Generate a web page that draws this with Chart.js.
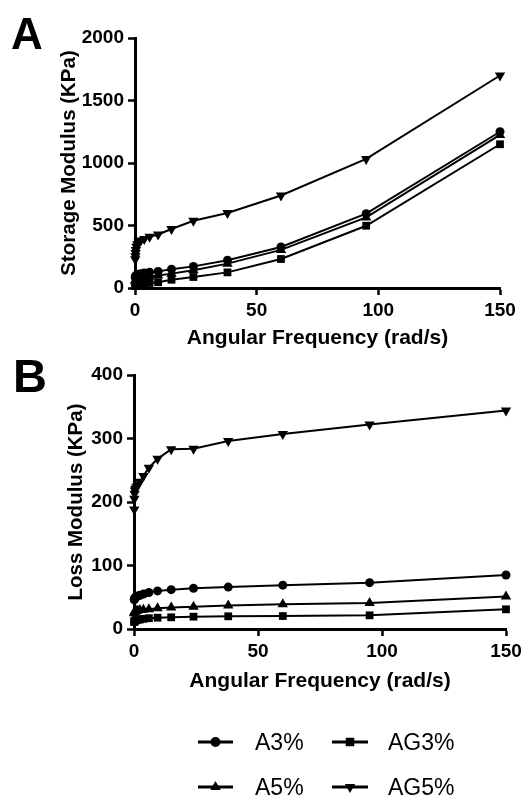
<!DOCTYPE html>
<html><head><meta charset="utf-8">
<script src="https://cdn.jsdelivr.net/npm/chart.js@4"></script>
<style>
html,body{margin:0;padding:0;background:#fff;}
#wrap{position:relative;width:532px;height:799px;overflow:hidden;background:#fff;}
canvas{position:absolute;left:0;}
.panel{position:absolute;font-family:'Liberation Sans',Arial,sans-serif;font-weight:bold;line-height:1;color:#000;}
</style></head><body>
<div id="wrap">
<canvas id="cA" width="532" height="352" style="top:0;width:532px;height:352px"></canvas>
<canvas id="cB" width="532" height="447" style="top:352px;width:532px;height:447px"></canvas>
<div class="panel" style="left:11px;top:12px;font-size:44px;">A</div>
<div class="panel" style="left:13px;top:352px;font-size:47px;font-family:'Liberation Sans Narrow','Liberation Sans',Arial,sans-serif;">B</div>
</div>
<script>
// ---- data ----
const freq = [0.1, 0.15, 0.24, 0.38, 0.6, 0.95, 1.5, 2.4, 3.8, 6, 9.5, 15, 24, 38, 60, 95, 150];
const seriesLabels = ['A3%', 'A5%', 'AG3%', 'AG5%'];

const storageA3  = [85, 90, 95, 98, 102, 106, 110, 115, 120, 126, 133, 150, 173, 222, 328, 595, 1250];
const storageA5  = [55, 60, 64, 68, 72, 76, 80, 84, 88, 93, 100, 115, 142, 195, 305, 565, 1225];
const storageAG3 = [15, 18, 20, 22, 25, 27, 30, 33, 36, 40, 46, 66, 88, 125, 232, 498, 1150];
const storageAG5 = [230, 255, 280, 305, 330, 350, 365, 380, 392, 410, 428, 472, 538, 600, 740, 1033, 1700];

const lossA3  = [46, 47, 48, 49, 50, 51, 52, 53, 55, 57.5, 60, 62, 64, 66, 69, 73, 85];
const lossA5  = [25, 26, 27, 27.5, 28, 28.5, 29, 30, 30.5, 31, 32.5, 34, 35, 37, 39, 41, 51];
const lossAG3 = [11, 12, 12.5, 13, 13.5, 14, 14.5, 15, 16, 17, 17.8, 18.4, 19.4, 20, 20.4, 21.5, 31];
const lossAG5 = [188, 205, 213, 218, 221, 224, 227, 232, 241, 254, 268, 283, 284, 296, 307, 322, 344];

const xTicks = [0, 50, 100, 150];
const storageTicks = [0, 500, 1000, 1500, 2000];
const lossTicks = [0, 100, 200, 300, 400];

const xTitle = 'Angular Frequency (rad/s)';
const storageTitle = 'Storage Modulus (KPa)';
const lossTitle = 'Loss Modulus (KPa)';

// ---- styles ----
const FONT = "'Liberation Sans', Arial, Helvetica, sans-serif";
Chart.defaults.font.family = FONT;
Chart.defaults.color = '#000';
const markerStyles = [
  {pointStyle: 'circle', pointRadius: 4.5, pointRotation: 0},
  {pointStyle: 'triangle', pointRadius: 6, pointRotation: 0},
  {pointStyle: 'rect', pointRadius: 5.5, pointRotation: 0},
  {pointStyle: 'triangle', pointRadius: 6, pointRotation: 180}
];

function buildDatasets(seriesList) {
  return seriesList.map((vals, i) => Object.assign({
    label: seriesLabels[i],
    data: freq.map((f, j) => ({x: f, y: vals[j]})),
    borderColor: '#000',
    backgroundColor: '#000',
    pointBackgroundColor: '#000',
    pointBorderColor: '#000',
    pointBorderWidth: 0,
    borderWidth: 2,
    tension: 0,
    clip: false
  }, markerStyles[i]));
}

const legendPlugin = {
  id: 'gridLegend',
  afterDraw(chart, args, opts) {
    if (!opts || !opts.show) return;
    const ctx = chart.ctx;
    const cols = [{x0: 198, x1: 233, tx: 255}, {x0: 332, x1: 368, tx: 388}];
    const rows = [390, 435];
    ctx.save();
    chart.data.datasets.forEach((ds, i) => {
      const c = cols[Math.floor(i / 2)];
      const y = rows[i % 2];
      ctx.strokeStyle = '#000';
      ctx.fillStyle = '#000';
      ctx.lineWidth = 3;
      ctx.beginPath();
      ctx.moveTo(c.x0, y);
      ctx.lineTo(c.x1, y);
      ctx.stroke();
      Chart.helpers.drawPoint(ctx, {
        pointStyle: ds.pointStyle,
        rotation: ds.pointRotation || 0,
        radius: ds.pointStyle === 'circle' ? 5 : 6,
        borderWidth: 0
      }, (c.x0 + c.x1) / 2, y);
      ctx.fillStyle = '#000';
      ctx.font = '23px ' + FONT;
      ctx.textAlign = 'left';
      ctx.textBaseline = 'alphabetic';
      ctx.fillText(ds.label, c.tx, y + 8.2);
    });
    ctx.restore();
  }
};

function makeChart(id, datasets, yTicks, yTitleText, g) {
  return new Chart(document.getElementById(id), {
    type: 'line',
    data: {datasets},
    plugins: [legendPlugin],
    options: {
      responsive: false,
      devicePixelRatio: 1,
      animation: false,
      events: [],
      layout: {padding: {left: 0, right: g.right, top: g.top, bottom: g.bottom}},
      plugins: {
        legend: {display: false},
        tooltip: {enabled: false},
        gridLegend: {show: g.legend}
      },
      scales: {
        x: {
          type: 'linear',
          min: xTicks[0], max: xTicks[xTicks.length - 1],
          afterBuildTicks: s => { s.ticks = xTicks.map(v => ({value: v})); },
          afterFit: s => { s.height = g.xh; },
          ticks: {font: {size: 19, weight: 'bold'}, color: '#000', padding: 4, maxRotation: 0, callback: v => String(v)},
          grid: {display: true, drawOnChartArea: false, drawTicks: true, tickLength: 7, tickWidth: 2.5, color: '#000'},
          border: {display: true, color: '#000', width: 3},
          title: {display: true, text: xTitle, color: '#000', font: {size: 21, weight: 'bold'}, padding: {top: 0, bottom: g.xtp}}
        },
        y: {
          type: 'linear',
          min: yTicks[0], max: yTicks[yTicks.length - 1],
          afterBuildTicks: s => { s.ticks = yTicks.map(v => ({value: v})); },
          afterFit: s => { s.width = g.left; },
          ticks: {font: {size: 19, weight: 'bold'}, color: '#000', padding: 4, callback: v => String(v)},
          grid: {display: true, drawOnChartArea: false, drawTicks: true, tickLength: 7, tickWidth: 2.5, color: '#000'},
          border: {display: true, color: '#000', width: 3},
          title: {display: true, text: yTitleText, color: '#000', font: {size: 20.5, weight: 'bold'}, padding: {top: g.ytp, bottom: 0}}
        }
      }
    }
  });
}

makeChart('cA', buildDatasets([storageA3, storageA5, storageAG3, storageAG5]), storageTicks, storageTitle,
  {left: 135, right: 32, top: 38, bottom: 0, xh: 64, xtp: 1.4, ytp: 57.5, legend: false});
makeChart('cB', buildDatasets([lossA3, lossA5, lossAG3, lossAG5]), lossTicks, lossTitle,
  {left: 134, right: 26, top: 23, bottom: 104, xh: 66, xtp: 1, ytp: 64.5, legend: true});
</script>
</body></html>
